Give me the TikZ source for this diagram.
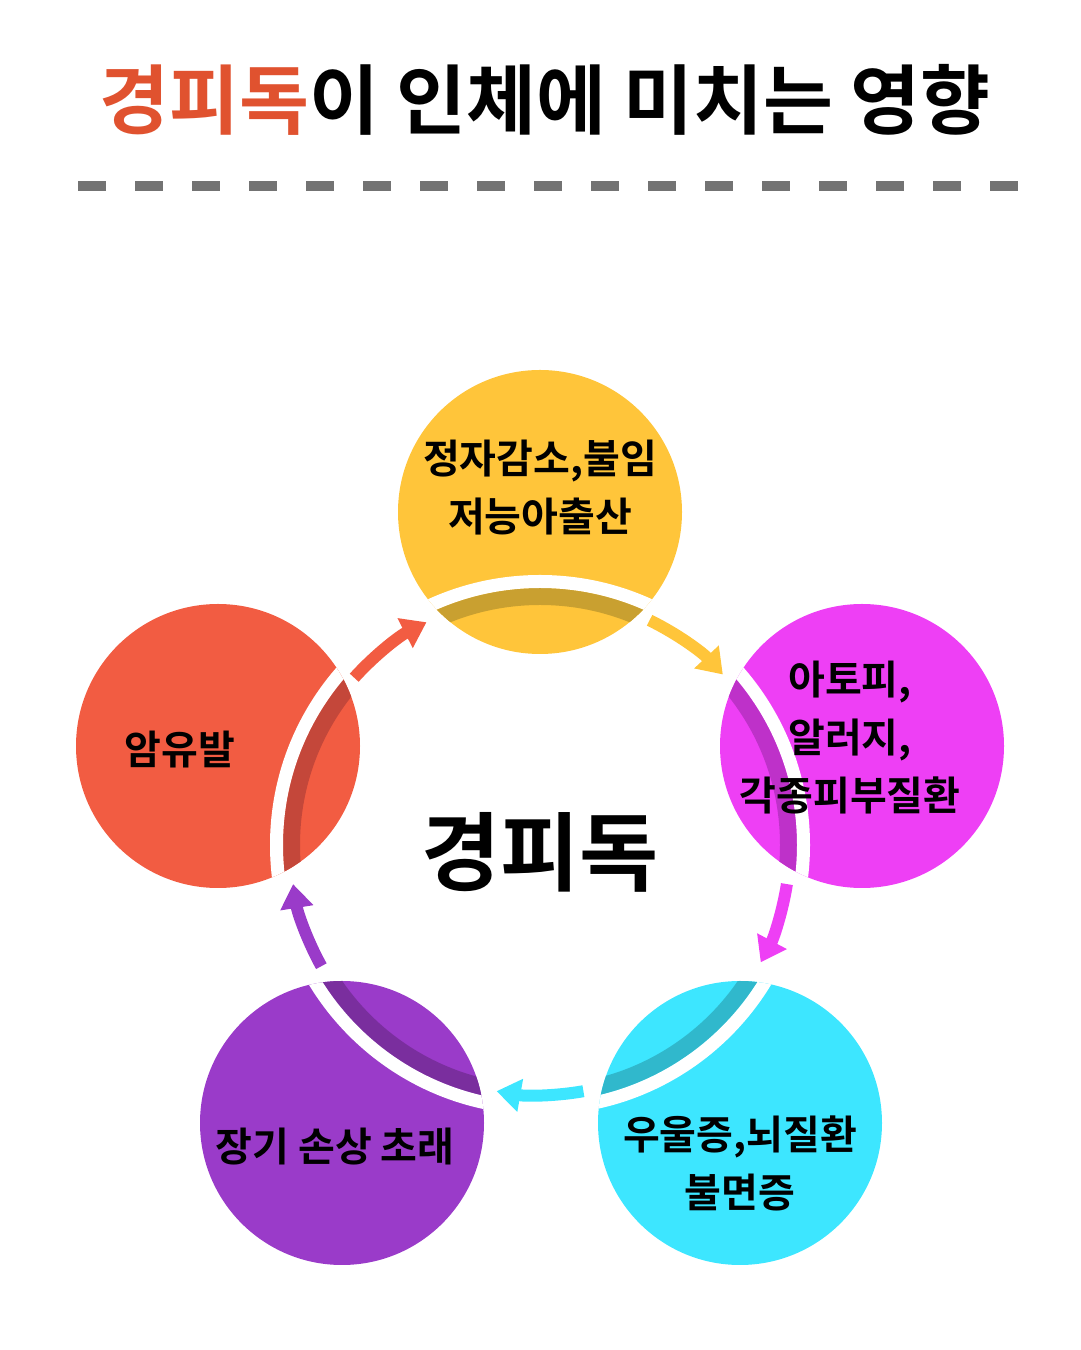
\documentclass[tikz,border=0pt]{standalone}
\usepackage{fontspec}
\setmainfont{Noto Sans CJK KR}[BoldFont={* Bold}]
\usetikzlibrary{arrows.meta}
\definecolor{cyel}{HTML}{FFC53A}\definecolor{dyel}{HTML}{C9A030}
\definecolor{cmag}{HTML}{EE3FF5}\definecolor{dmag}{HTML}{BE31C9}
\definecolor{ccya}{HTML}{3DE6FF}\definecolor{dcya}{HTML}{30B8CC}
\definecolor{cpur}{HTML}{9A3BC9}\definecolor{dpur}{HTML}{7A2E9E}
\definecolor{cred}{HTML}{F25C42}\definecolor{dred}{HTML}{C4473A}
\definecolor{ctitle}{HTML}{E0522F}
\tikzset{
  circ label/.style={font=\fontsize{40}{58}\selectfont\bfseries,align=center},
  cyc arrow/.style={line width=12pt,-{Triangle[length=24pt,width=32pt]}}
}
\begin{document}
\begin{tikzpicture}[x=1pt,y=1pt]
\useasboundingbox (0,0) rectangle (1080,1350);
\coordinate (ctr) at (540,505);
\node[font=\fontsize{76}{80}\selectfont\bfseries] (title) at (545,1250)
  {\textcolor{ctitle}{경피독}이 인체에 미치는 영향};
\draw[line width=10pt,color=black!55,dash pattern=on 28pt off 29pt] (78,1164) -- (1022,1164);
% circles with ring cut
\foreach \nm/\pos/\fc/\dc in {yel/{(540,838)}/cyel/dyel, mag/{(862,604)}/cmag/dmag,
    cya/{(740,227)}/ccya/dcya, pur/{(342,227)}/cpur/dpur, red/{(218,604)}/cred/dred}{
  \fill[\fc] \pos circle (142) coordinate (\nm);
  \begin{scope}
    \clip \pos circle (142);
    \draw[\dc,line width=17pt] (ctr) circle (248.5);
    \draw[white,line width=13pt] (ctr) circle (263.5);
  \end{scope}
}
% arrows
\draw[cyc arrow,cred] (ctr) ++(138:250) arc (138:117:250);
\draw[cyc arrow,cyel] (ctr) ++(64:250) arc (64:43:250);
\draw[cyc arrow,cmag] (ctr) ++(-9:250) arc (-9:-28:250);
\draw[cyc arrow,ccya] (ctr) ++(-80:250) arc (-80:-100:250);
\draw[cyc arrow,cpur] (ctr) ++(-151:250) arc (-151:-171:250);
% labels
\node[font=\fontsize{86}{90}\selectfont\bfseries] (core) at (540,498) {경피독};
\node[circ label] (lyel) at (540,862) {정자감소,불임\\저능아출산};
\node[circ label] (lmag) at (850,612) {아토피,\\알러지,\\각종피부질환};
\node[circ label] (lred) at (180,600) {암유발};
\node[circ label] (lpur) at (335,203) {장기 손상 초래};
\node[circ label] (lcya) at (740,187) {우울증,뇌질환\\불면증};
\end{tikzpicture}
\end{document}
